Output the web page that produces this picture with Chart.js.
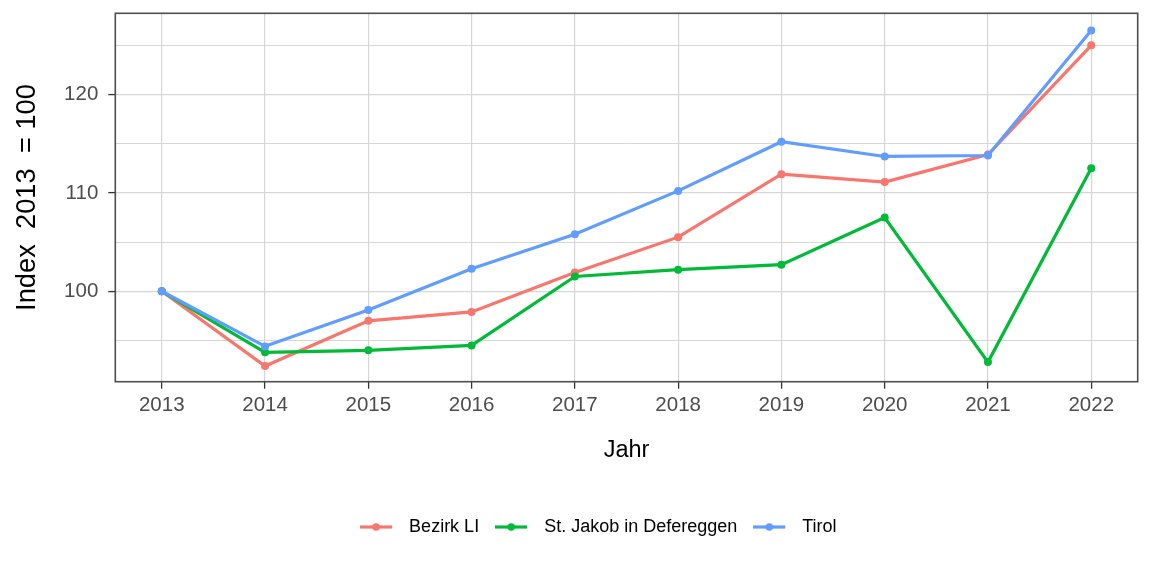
<!DOCTYPE html>
<html>
<head>
<meta charset="utf-8">
<script src="https://cdn.jsdelivr.net/npm/chart.js@4/dist/chart.umd.min.js"></script>
<style>
  html, body { margin: 0; padding: 0; background: #fff; }
</style>
</head>
<body>
<canvas id="myChart" width="1152" height="576"></canvas>
<script>
// data
const years = [2013, 2014, 2015, 2016, 2017, 2018, 2019, 2020, 2021, 2022];
const bezirkLI = [100, 92.4, 97.0, 97.9, 101.9, 105.5, 111.9, 111.1, 113.9, 125.0];
const stJakob = [100, 93.8, 94.0, 94.5, 101.5, 102.2, 102.7, 107.5, 92.8, 112.5];
const tirol = [100, 94.4, 98.1, 102.3, 105.8, 110.2, 115.2, 113.7, 113.8, 126.5];
const yTicks = [95, 100, 105, 110, 115, 120, 125];
const yLabels = [100, 110, 120];

const FONT = "'Liberation Sans', Arial, sans-serif";

const toPoints = (vals) => vals.map((v, i) => ({ x: years[i], y: v }));

// little line+dot swatch for the legend
const swatch = function (color) {
  const c = document.createElement("canvas");
  c.width = 40;
  c.height = 12;
  const g = c.getContext("2d");
  g.strokeStyle = color;
  g.lineWidth = 3.2;
  g.beginPath();
  g.moveTo(0, 6);
  g.lineTo(32, 6);
  g.stroke();
  g.fillStyle = color;
  g.beginPath();
  g.arc(16, 6, 3.8, 0, Math.PI * 2);
  g.fill();
  return c;
};

const series = [
  { label: "Bezirk LI", data: bezirkLI, color: "#F8766D", order: 2 },
  { label: "St. Jakob in Defereggen", data: stJakob, color: "#00BA38", order: 1 },
  { label: "Tirol", data: tirol, color: "#619CFF", order: 0 },
];

const panelBorder = {
  id: "panelBorder",
  afterDatasetsDraw(chart) {
    const a = chart.chartArea;
    const ctx = chart.ctx;
    ctx.save();
    ctx.strokeStyle = "#4d4d4d";
    ctx.lineWidth = 1.6;
    ctx.strokeRect(a.left, a.top, a.right - a.left, a.bottom - a.top);
    ctx.restore();
  },
};

const config = {
  type: "line",
  data: {
    datasets: series.map((s) => ({
      label: s.label,
      data: toPoints(s.data),
      borderColor: s.color,
      backgroundColor: s.color,
      pointBackgroundColor: s.color,
      borderWidth: 3.2,
      pointRadius: 4,
      pointBorderWidth: 0,
      tension: 0,
      order: s.order,
    })),
  },
  options: {
    responsive: false,
    animation: false,
    layout: { padding: { top: 13.3, right: 14.3, bottom: 30, left: 59 } },
    plugins: {
      tooltip: { enabled: false },
      legend: {
        position: "bottom",
        labels: {
          usePointStyle: true,
          pointStyleWidth: 40,
          padding: 16,
          color: "#000",
          font: { family: FONT, size: 18 },
          sort: (a, b) => a.datasetIndex - b.datasetIndex,
          generateLabels(chart) {
            const items = Chart.defaults.plugins.legend.labels.generateLabels(chart);
            items.forEach((it) => {
              it.pointStyle = swatch(series[it.datasetIndex].color);
            });
            return items;
          },
        },
      },
    },
    scales: {
      x: {
        type: "linear",
        min: 2012.55,
        max: 2022.45,
        afterBuildTicks: (scale) => {
          scale.ticks = years.map((v) => ({ value: v }));
        },
        afterFit: (scale) => {
          scale.height = 120.3;
          scale.paddingLeft = 0;
          scale.paddingRight = 0;
        },
        ticks: {
          autoSkip: false,
          maxRotation: 0,
          padding: 4,
          color: "#4d4d4d",
          font: { family: FONT, size: 20.5 },
          callback: (v) => String(v),
        },
        grid: {
          color: "#d6d6d6",
          lineWidth: 1.2,
          tickLength: 7,
          tickColor: "#333",
          tickWidth: 1.3,
        },
        border: { display: false },
        title: {
          display: true,
          text: "Jahr",
          color: "#000",
          font: { family: FONT, size: 23.5 },
          padding: { top: 0, bottom: 37 },
        },
      },
      y: {
        min: 90.81,
        max: 128.25,
        afterBuildTicks: (scale) => {
          scale.ticks = yTicks.map((v) => ({ value: v }));
        },
        afterFit: (scale) => {
          scale.width = 56.3;
          scale.paddingTop = 0;
          scale.paddingBottom = 0;
        },
        ticks: {
          padding: 10,
          color: "#4d4d4d",
          font: { family: FONT, size: 20.5 },
          callback: (v) => (yLabels.includes(v) ? String(v) : ""),
        },
        grid: {
          color: "#d6d6d6",
          lineWidth: (ctx) => (ctx.tick && yLabels.includes(ctx.tick.value) ? 1.2 : 1),
          tickLength: 7,
          tickColor: (ctx) => (ctx.tick && yLabels.includes(ctx.tick.value) ? "#333" : "rgba(0,0,0,0)"),
          tickWidth: 1.3,
        },
        border: { display: false },
        title: {
          display: true,
          text: "Index  2013  = 100",
          color: "#000",
          font: { family: FONT, size: 27.3 },
          padding: { top: -47.5, bottom: 0 },
        },
      },
    },
  },
  plugins: [panelBorder],
};

const myChart = new Chart(document.getElementById("myChart"), config);
</script>
</body>
</html>
